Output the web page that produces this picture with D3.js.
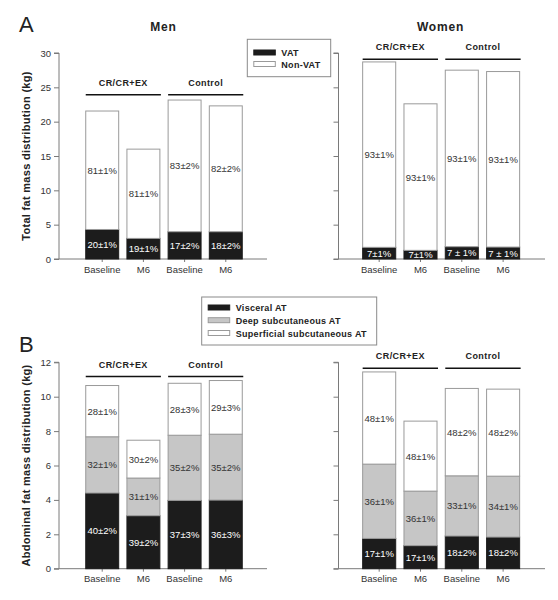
<!DOCTYPE html>
<html><head><meta charset="utf-8">
<script src="https://cdn.jsdelivr.net/npm/d3@7"></script>
<style>body{margin:0;background:#fff} svg{display:block;font-family:Arial,"Liberation Sans",sans-serif}</style>
</head><body><svg id="c" width="558" height="600"></svg>
<script>
// ---------- data ----------
const categories = ["Baseline", "M6", "Baseline", "M6"];
const groups = ["CR/CR+EX", "Control"];
const ticksA = [0, 5, 10, 15, 20, 25, 30];
const ticksB = [0, 2, 4, 6, 8, 10, 12];

// Panel A (kg)
const menVAT = [4.3, 3.0, 3.97, 3.97];
const menNonVAT = [17.25, 13.0, 19.18, 18.33];
const menVATLabels = ["20±1%", "19±1%", "17±2%", "18±2%"];
const menNonVATLabels = ["81±1%", "81±1%", "83±2%", "82±2%"];
const womenVAT = [1.7, 1.26, 1.79, 1.74];
const womenNonVAT = [27.0, 21.34, 25.71, 25.56];
const womenVATLabels = ["7±1%", "7±1%", "7 ± 1%", "7 ± 1%"];
const womenNonVATLabels = ["93±1%", "93±1%", "93±1%", "93±1%"];

// Panel B (kg)
const menVisceral = [4.40, 3.08, 3.97, 3.99];
const menDeep = [3.27, 2.19, 3.79, 3.83];
const menSuperficial = [2.98, 2.20, 3.02, 3.12];
const menVisceralLabels = ["40±2%", "39±2%", "37±3%", "36±3%"];
const menDeepLabels = ["32±1%", "31±1%", "35±2%", "35±2%"];
const menSuperficialLabels = ["28±1%", "30±2%", "28±3%", "29±3%"];
const womenVisceral = [1.76, 1.34, 1.90, 1.84];
const womenDeep = [4.32, 3.17, 3.50, 3.54];
const womenSuperficial = [5.36, 4.07, 5.08, 5.06];
const womenVisceralLabels = ["17±1%", "17±1%", "18±2%", "18±2%"];
const womenDeepLabels = ["36±1%", "36±1%", "33±1%", "34±1%"];
const womenSuperficialLabels = ["48±1%", "48±1%", "48±2%", "48±2%"];

const legendA = ["VAT", "Non-VAT"];
const legendB = ["Visceral AT", "Deep subcutaneous AT", "Superficial subcutaneous AT"];

// ---------- style ----------
const BLACK = "#1c1c1c", GRAY = "#c6c6c6", WHITE = "#ffffff";
const AXIS = "#7a7a7a", TXT = "#333";
const svg = d3.select("#c");

function panel(o) {
  const g = svg.append("g");
  const x = d3.scaleBand().domain(d3.range(categories.length)).range(o.xRange).paddingInner(0.2).paddingOuter(0.2);
  const y = d3.scaleLinear().domain(o.domain).range(o.yRange);
  const keys = o.series.map((s, i) => "s" + i);
  const rows = categories.map((c, i) => {
    const r = { i };
    o.series.forEach((s, k) => r["s" + k] = s.values[i]);
    return r;
  });
  const stacked = d3.stack().keys(keys)(rows);

  // y axis
  const ya = d3.axisLeft(y).tickValues(o.ticks).tickSize(5).tickPadding(3)
    .tickFormat(o.showLabels ? d3.format("d") : "");
  const yg = g.append("g").attr("transform", `translate(${o.axisX},0)`).call(ya);
  yg.select(".domain").attr("stroke", AXIS).attr("d", `M-5,${y(o.domain[1])}H0V${y(0)}`);
  yg.selectAll(".tick line").attr("stroke", AXIS);
  yg.selectAll(".tick text").attr("fill", TXT).style("font-size", "9.5px").style("font-family", "Arial, 'Liberation Sans', sans-serif");

  // x axis line and small ticks at bar centres
  g.append("line").attr("x1", o.axisX - 5).attr("x2", o.xEnd).attr("y1", y(0)).attr("y2", y(0)).attr("stroke", AXIS);
  g.selectAll(null).data(categories).enter().append("line")
    .attr("x1", (d, i) => x(i) + x.bandwidth() / 2).attr("x2", (d, i) => x(i) + x.bandwidth() / 2)
    .attr("y1", y(0)).attr("y2", y(0) + 3).attr("stroke", AXIS);

  // bars
  stacked.forEach((layer, k) => {
    const s = o.series[k];
    g.selectAll(null).data(layer).enter().append("rect")
      .attr("x", d => x(d.data.i))
      .attr("width", x.bandwidth())
      .attr("y", d => y(d[1]))
      .attr("height", d => y(d[0]) - y(d[1]))
      .attr("fill", s.color)
      .attr("stroke", s.color === BLACK ? BLACK : "#9a9a9a")
      .attr("stroke-width", 1);
    g.selectAll(null).data(layer).enter().append("text")
      .attr("x", d => x(d.data.i) + x.bandwidth() / 2)
      .attr("y", d => (y(d[0]) + y(d[1])) / 2 + 3.5)
      .attr("text-anchor", "middle")
      .style("font-size", "9.5px")
      .attr("fill", s.color === BLACK ? "#fff" : TXT)
      .text((d, i) => s.labels[i]);
  });

  // category labels
  g.selectAll(null).data(categories).enter().append("text")
    .attr("x", (d, i) => x(i) + x.bandwidth() / 2)
    .attr("y", y(0) + 13.5)
    .attr("text-anchor", "middle").style("font-size", "9.5px").attr("fill", TXT)
    .text(d => d);

  // group headers
  groups.forEach((gr, j) => {
    const x0 = x(j * 2), x1 = x(j * 2 + 1) + x.bandwidth() + 1;
    g.append("line").attr("x1", x0).attr("x2", x1).attr("y1", o.lineY).attr("y2", o.lineY)
      .attr("stroke", "#111").attr("stroke-width", 1.6);
    g.append("text").attr("x", (x0 + x1) / 2).attr("y", o.lineY - 9)
      .attr("text-anchor", "middle").style("font-size", "9px").style("font-weight", "bold")
      .style("letter-spacing", "0.4px").attr("fill", "#222").text(gr);
  });

  if (o.title) {
    g.append("text").attr("x", o.titleX).attr("y", 30.5).attr("text-anchor", "middle")
      .style("font-size", "12px").style("font-weight", "bold").style("letter-spacing", "0.8px")
      .attr("fill", "#222").text(o.title);
  }
  if (o.yTitle) {
    g.append("text").attr("transform", `translate(30,${(y(0) + y(o.domain[1])) / 2}) rotate(-90)`)
      .attr("text-anchor", "middle").style("font-size", "11px").style("font-weight", "bold")
      .style("letter-spacing", "0.3px").attr("fill", "#222").text(o.yTitle);
  }
}

const seriesMenA = [
  { values: menVAT, labels: menVATLabels, color: BLACK },
  { values: menNonVAT, labels: menNonVATLabels, color: WHITE }];
const seriesWomenA = [
  { values: womenVAT, labels: womenVATLabels, color: BLACK },
  { values: womenNonVAT, labels: womenNonVATLabels, color: WHITE }];
const seriesMenB = [
  { values: menVisceral, labels: menVisceralLabels, color: BLACK },
  { values: menDeep, labels: menDeepLabels, color: GRAY },
  { values: menSuperficial, labels: menSuperficialLabels, color: WHITE }];
const seriesWomenB = [
  { values: womenVisceral, labels: womenVisceralLabels, color: BLACK },
  { values: womenDeep, labels: womenDeepLabels, color: GRAY },
  { values: womenSuperficial, labels: womenSuperficialLabels, color: WHITE }];

panel({ series: seriesMenA, xRange: [77.5, 250.5], axisX: 59, xEnd: 267, domain: [0, 30], yRange: [259, 53],
  ticks: ticksA, showLabels: true, lineY: 94.7, title: "Men", titleX: 163.5, yTitle: "Total fat mass distribution (kg)" });
panel({ series: seriesWomenA, xRange: [354.4, 527.9], axisX: 338.5, xEnd: 545, domain: [0, 30], yRange: [259, 53],
  ticks: ticksA, showLabels: false, lineY: 59.3, title: "Women", titleX: 440.5 });
panel({ series: seriesMenB, xRange: [77.5, 250.5], axisX: 59, xEnd: 267, domain: [0, 12], yRange: [568.7, 362.3],
  ticks: ticksB, showLabels: true, lineY: 376.5, yTitle: "Abdominal fat mass distribution (kg)" });
panel({ series: seriesWomenB, xRange: [354.4, 527.9], axisX: 338.5, xEnd: 545, domain: [0, 12], yRange: [568.7, 362.3],
  ticks: ticksB, showLabels: false, lineY: 368.3 });

// panel letters
svg.append("text").attr("x", 19).attr("y", 32).style("font-size", "22px").attr("fill", "#222").text("A");
svg.append("text").attr("x", 19).attr("y", 352).style("font-size", "22px").attr("fill", "#222").text("B");

// legends
function legend(items, colors, box, rowY) {
  const g = svg.append("g");
  g.append("rect").attr("x", box[0]).attr("y", box[1]).attr("width", box[2]).attr("height", box[3])
    .attr("fill", "#fff").attr("stroke", "#8a8a8a");
  items.forEach((t, i) => {
    g.append("rect").attr("x", box[0] + 6.5).attr("y", rowY[i]).attr("width", 21.5).attr("height", 5)
      .attr("fill", colors[i]).attr("stroke", colors[i] === BLACK ? BLACK : "#9a9a9a");
    g.append("text").attr("x", box[0] + 34).attr("y", rowY[i] + 6).style("font-size", "9px")
      .style("font-weight", "bold").style("letter-spacing", "0.3px").attr("fill", "#222").text(t);
  });
}
legend(legendA, [BLACK, WHITE], [247.3, 39.3, 83.4, 37.4], [50, 61.5]);
legend(legendB, [BLACK, GRAY, WHITE], [201.7, 297, 175, 48], [305, 317.7, 330.5]);
</script></body></html>
